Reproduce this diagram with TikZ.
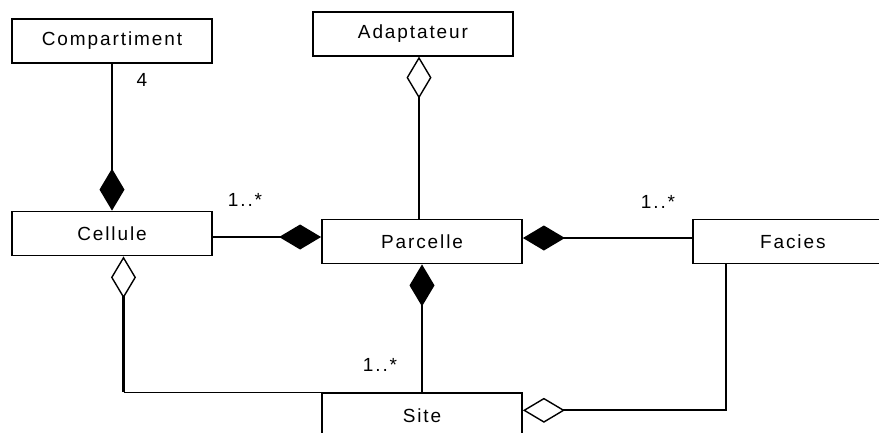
\documentclass[tikz,border=0pt]{standalone}
\usepackage{fontspec}
\usepackage{tikz}
\usetikzlibrary{arrows.meta, positioning, calc}
\newfontfamily\umlfont[LetterSpace=10]{Liberation Sans}
\tikzset{
  umlclass/.style={rectangle,draw=black,line width=1.8pt,fill=white,minimum width=200pt,minimum height=44pt,inner sep=0pt,font=\umlfont\fontsize{19}{22}\selectfont},
  link/.style={line width=1.8pt,black},
  composition/.style={link,{Diamond[length=42pt,width=25pt]}-},
  aggregation/.style={link,{Diamond[open,fill=white,length=42pt,width=25pt,line width=1.4pt]}-},
  mult/.style={inner sep=0pt,font=\umlfont\fontsize{19}{22}\selectfont},
}

\begin{document}
\begin{tikzpicture}[x=1pt,y=-1pt]
	    \useasboundingbox (0,0) rectangle (879,432);
	    \fill[white] (0,0) rectangle (879,432);
	    \clip (0,0) rectangle (879,432);
	    % classes
	    \node[umlclass] (cellule) at (112,233.5) {Cellule};
	    \node[umlclass,above=147pt of cellule] (compartiment) {Compartiment};
	    \node[umlclass] (parcelle) at (422,241.5) {Parcelle};
	    \node[umlclass,above=162pt of parcelle,xshift=-9pt] (adaptateur) {Adaptateur};
	    \node[umlclass,right=169pt of parcelle] (facies) {Facies};
	    \node[umlclass,below=128pt of parcelle] (site) {Site};
	    % anchor points of the links
	    \coordinate (cp) at ([yshift=4.5pt]parcelle.west);
	    \coordinate (ap) at ([xshift=6pt]adaptateur.south);
	    \coordinate (pf) at ([yshift=3.5pt]parcelle.east);
	    \coordinate (cs) at ([xshift=11.5pt]cellule.south);
	    \coordinate (csbend) at (cs |- site.north west);
	    \coordinate (sf) at ([yshift=5pt]site.east);
	    \coordinate (fs) at ([xshift=-67pt]facies.south);
	    % links
	    \draw[composition] (cellule) -- (compartiment);
	    \draw[composition] (cp) -- (cp -| cellule.east);
	    \draw[aggregation] (ap) -- (ap |- parcelle.north);
	    \draw[composition] (pf) -- (pf -| facies.west);
	    \draw[composition] (parcelle) -- (site);
	    \draw[aggregation,line width=2.8pt] (cs) -- (csbend);
	    \draw[link] (csbend) -- (site.north west);
	    \draw[aggregation] (sf) -| (fs);
	    % multiplicities
	    \node[mult] (mult4) at ([xshift=30pt,yshift=-16pt]compartiment.south) {4};
	    \node[mult] (multcp) at (245,200) {1..*};
	    \node[mult] (multpf) at (658,202) {1..*};
	    \node[mult] (multps) at (380,365) {1..*};
	\end{tikzpicture}
\end{document}
